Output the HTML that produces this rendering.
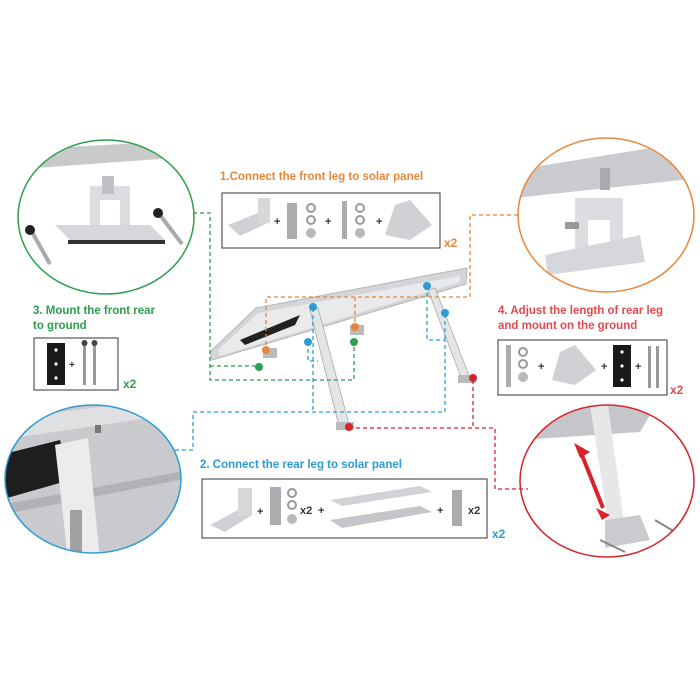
<!DOCTYPE html>
<html><head><meta charset="utf-8"><style>
html,body{margin:0;padding:0;background:#fff}
svg{display:block}
text{font-family:"Liberation Sans",sans-serif;font-weight:bold}
</style></head><body>
<svg width="700" height="700" viewBox="0 0 700 700" xmlns="http://www.w3.org/2000/svg">
<defs>
<clipPath id="cg"><ellipse cx="106" cy="217" rx="88" ry="77"/></clipPath>
<clipPath id="co"><ellipse cx="606" cy="215" rx="88" ry="77"/></clipPath>
<clipPath id="cb"><ellipse cx="93" cy="479" rx="88" ry="74"/></clipPath>
<clipPath id="cr"><ellipse cx="607" cy="481" rx="87" ry="76"/></clipPath>
</defs>

<!-- green circle -->
<g clip-path="url(#cg)">
<polygon points="10,150 200,140 200,156 10,170" fill="#c8cacc"/>
<rect x="90" y="186" width="40" height="40" fill="#dcdde0"/>
<rect x="100" y="200" width="20" height="26" fill="#fff"/>
<polygon points="55,225 150,225 165,240 70,240" fill="#d6d7da"/>
<rect x="68" y="240" width="97" height="4" fill="#333"/>
<rect x="102" y="176" width="12" height="18" fill="#bfc1c4"/>
<line x1="32" y1="232" x2="50" y2="264" stroke="#aaa" stroke-width="4"/>
<circle cx="30" cy="230" r="5" fill="#222"/>
<line x1="160" y1="215" x2="182" y2="244" stroke="#aaa" stroke-width="4"/>
<circle cx="158" cy="213" r="5" fill="#222"/>
</g>
<ellipse cx="106" cy="217" rx="88" ry="77" fill="none" stroke="#2e9e4f" stroke-width="1.5"/>

<!-- orange circle -->
<g clip-path="url(#co)">
<polygon points="515,170 700,140 700,178 515,198" fill="#c9cbce"/>
<rect x="575" y="198" width="48" height="55" fill="#dcdde0"/>
<rect x="588" y="220" width="22" height="35" fill="#fff"/>
<polygon points="545,255 640,235 645,262 548,275" fill="#d6d7da"/>
<rect x="600" y="168" width="10" height="22" fill="#a8aaae"/>
<rect x="565" y="222" width="14" height="7" fill="#999"/>
</g>
<ellipse cx="606" cy="215" rx="88" ry="77" fill="none" stroke="#e8873a" stroke-width="1.5"/>

<!-- blue circle -->
<g clip-path="url(#cb)">
<rect x="0" y="400" width="190" height="160" fill="#c8cacd"/>
<polygon points="0,420 190,395 190,412 0,440" fill="#dfe0e2"/>
<polygon points="0,455 60,440 70,480 0,500" fill="#1e1e1e"/>
<polygon points="0,505 190,470 190,478 0,515" fill="#b0b2b5"/>
<polygon points="55,445 88,438 100,560 68,560" fill="#ececec"/>
<rect x="70" y="510" width="12" height="50" fill="#9fa1a4"/>
<rect x="95" y="425" width="6" height="8" fill="#777"/>
</g>
<ellipse cx="93" cy="479" rx="88" ry="74" fill="none" stroke="#2d9bd4" stroke-width="1.5"/>

<!-- red circle -->
<g clip-path="url(#cr)">
<polygon points="520,405 700,405 700,420 650,415 640,432 520,440" fill="#c4c6c9"/>
<polygon points="590,405 608,405 625,530 610,535" fill="#e6e7e9"/>
<polygon points="605,520 640,515 650,540 605,548" fill="#c9cbce"/>
<line x1="580" y1="450" x2="603" y2="508" stroke="#d8232a" stroke-width="4"/>
<polygon points="574,443 590,452 580,458" fill="#d8232a"/>
<polygon points="610,515 596,508 602,520" fill="#d8232a"/>
<line x1="600" y1="540" x2="625" y2="552" stroke="#888" stroke-width="2"/>
<line x1="655" y1="520" x2="680" y2="535" stroke="#888" stroke-width="2"/>
</g>
<ellipse cx="607" cy="481" rx="87" ry="76" fill="none" stroke="#d8232a" stroke-width="1.5"/>

<!-- panel -->
<polygon points="210,352 256,308 467,268 466,284 212,360" fill="#d3d5d8" stroke="#b4b6b9"/>
<polygon points="218,350 258,313 460,276 460,282 220,356" fill="#e9eaec"/>
<polygon points="240,340 300,315 295,325 245,345" fill="#222"/>
<!-- legs -->
<polygon points="310,310 318,308 350,428 340,430" fill="#e4e5e7" stroke="#aaa" stroke-width="0.8"/>
<polygon points="428,290 435,288 470,378 462,380" fill="#e4e5e7" stroke="#aaa" stroke-width="0.8"/>
<rect x="263" y="348" width="14" height="10" fill="#bbb"/>
<rect x="350" y="325" width="14" height="10" fill="#bbb"/>
<rect x="336" y="422" width="18" height="8" fill="#bbb"/>
<rect x="458" y="375" width="18" height="8" fill="#bbb"/>

<!-- connectors -->
<g fill="none" stroke-width="1.3" stroke-dasharray="4,3">
<polyline stroke="#2e9e4f" points="193,213 210,213 210,380 354,380 354,344"/>
<polyline stroke="#2e9e4f" points="210,366 258,366"/>
<polyline stroke="#e8873a" points="518,215 470,215 470,297 266,297 266,350"/>
<polyline stroke="#e8873a" points="355,297 355,328"/>
<polyline stroke="#2d9bd4" points="175,450 193,450 193,412 445,412 445,340 427,340 427,288"/>
<polyline stroke="#2d9bd4" points="313,308 313,412"/>
<polyline stroke="#2d9bd4" points="308,342 308,361 318,361"/>
<polyline stroke="#2d9bd4" points="445,314 445,340"/>
<polyline stroke="#d8232a" points="349,428 495,428 495,489 528,489"/>
<polyline stroke="#d8232a" points="473,380 473,428"/>
</g>
<g>
<circle cx="259" cy="367" r="4" fill="#2e9e4f"/><circle cx="354" cy="342" r="4" fill="#2e9e4f"/>
<circle cx="266" cy="350" r="4" fill="#e8873a"/><circle cx="355" cy="327" r="4" fill="#e8873a"/>
<circle cx="313" cy="307" r="4" fill="#2d9bd4"/><circle cx="308" cy="342" r="4" fill="#2d9bd4"/>
<circle cx="427" cy="286" r="4" fill="#2d9bd4"/><circle cx="445" cy="313" r="4" fill="#2d9bd4"/>
<circle cx="349" cy="427" r="4" fill="#d8232a"/><circle cx="473" cy="378" r="4" fill="#d8232a"/>
</g>

<!-- labels -->
<text x="220" y="180" font-size="11.5" fill="#e8873a">1.Connect the front leg to solar panel</text>
<text x="33" y="314" font-size="11.5" fill="#2e9e4f">3. Mount the front rear</text>
<text x="33" y="329" font-size="11.5" fill="#2e9e4f">to ground</text>
<text x="498" y="314" font-size="11.5" fill="#e04a50">4. Adjust the length of rear leg</text>
<text x="498" y="329" font-size="11.5" fill="#e04a50">and mount on the ground</text>
<text x="200" y="468" font-size="11.5" fill="#2d9bd4">2. Connect the rear leg to solar panel</text>

<!-- box 1 -->
<rect x="222" y="193" width="218" height="55" fill="#fff" stroke="#333" stroke-width="1"/>
<polygon points="228,225 258,213 270,222 240,236" fill="#cfd1d4"/><rect x="258" y="198" width="12" height="25" fill="#d6d8da"/>
<text x="274" y="225" font-size="11" fill="#333" font-weight="normal">+</text>
<rect x="287" y="203" width="10" height="36" fill="#aaacaf"/>
<circle cx="311" cy="208" r="4" fill="none" stroke="#999" stroke-width="2"/><circle cx="311" cy="220" r="4" fill="none" stroke="#999" stroke-width="2"/><circle cx="311" cy="233" r="5" fill="#b7b9bc"/>
<text x="325" y="225" font-size="11" fill="#333" font-weight="normal">+</text>
<rect x="342" y="201" width="5" height="38" fill="#aaacaf"/>
<circle cx="360" cy="208" r="4" fill="none" stroke="#999" stroke-width="2"/><circle cx="360" cy="220" r="4" fill="none" stroke="#999" stroke-width="2"/><circle cx="360" cy="233" r="5" fill="#b7b9bc"/>
<text x="376" y="225" font-size="11" fill="#333" font-weight="normal">+</text>
<polygon points="385,235 395,205 410,200 432,225 410,240" fill="#cfd1d4"/>
<text x="444" y="247" font-size="12" fill="#e8873a">x2</text>

<!-- box 3 -->
<rect x="34" y="338" width="84" height="52" fill="#fff" stroke="#333"/>
<rect x="47" y="343" width="18" height="42" fill="#1a1a1a"/>
<circle cx="56" cy="350" r="1.6" fill="#fff"/><circle cx="56" cy="364" r="1.6" fill="#fff"/><circle cx="56" cy="378" r="1.6" fill="#fff"/>
<text x="69" y="368" font-size="10" fill="#333" font-weight="normal">+</text>
<rect x="83" y="343" width="3" height="42" fill="#999"/><rect x="93" y="343" width="3" height="42" fill="#999"/>
<circle cx="84.5" cy="343" r="3" fill="#444"/><circle cx="94.5" cy="343" r="3" fill="#444"/>
<text x="123" y="388" font-size="12" fill="#2e9e4f">x2</text>

<!-- box 4 -->
<rect x="498" y="340" width="169" height="55" fill="#fff" stroke="#333"/>
<rect x="506" y="345" width="5" height="42" fill="#aaacaf"/>
<circle cx="523" cy="352" r="4" fill="none" stroke="#999" stroke-width="2"/><circle cx="523" cy="364" r="4" fill="none" stroke="#999" stroke-width="2"/><circle cx="523" cy="377" r="5" fill="#b7b9bc"/>
<text x="538" y="370" font-size="11" fill="#333" font-weight="normal">+</text>
<polygon points="552,380 560,352 575,345 596,370 575,385" fill="#cfd1d4"/>
<text x="601" y="370" font-size="11" fill="#333" font-weight="normal">+</text>
<rect x="613" y="345" width="18" height="42" fill="#1a1a1a"/>
<circle cx="622" cy="352" r="1.6" fill="#fff"/><circle cx="622" cy="366" r="1.6" fill="#fff"/><circle cx="622" cy="380" r="1.6" fill="#fff"/>
<text x="635" y="370" font-size="11" fill="#333" font-weight="normal">+</text>
<rect x="648" y="346" width="3" height="42" fill="#999"/><rect x="656" y="346" width="3" height="42" fill="#999"/>
<text x="670" y="394" font-size="12" fill="#e04a50">x2</text>

<!-- box 2 -->
<rect x="202" y="479" width="285" height="59" fill="#fff" stroke="#333"/>
<polygon points="210,525 238,510 252,515 225,532" fill="#cfd1d4"/><rect x="238" y="488" width="14" height="28" fill="#d6d8da"/>
<text x="257" y="515" font-size="11" fill="#333" font-weight="normal">+</text>
<rect x="270" y="487" width="11" height="38" fill="#aaacaf"/>
<circle cx="292" cy="493" r="4" fill="none" stroke="#999" stroke-width="2"/><circle cx="292" cy="505" r="4" fill="none" stroke="#999" stroke-width="2"/><circle cx="292" cy="519" r="5" fill="#b7b9bc"/>
<text x="300" y="514" font-size="11" fill="#333" font-weight="normal">x2</text>
<text x="318" y="514" font-size="11" fill="#333" font-weight="normal">+</text>
<polygon points="330,500 420,486 432,492 342,506" fill="#d0d2d5"/>
<polygon points="330,520 420,506 432,512 342,528" fill="#c4c6c9"/>
<text x="437" y="514" font-size="11" fill="#333" font-weight="normal">+</text>
<rect x="452" y="490" width="10" height="36" fill="#aaacaf"/>
<text x="468" y="514" font-size="11" fill="#333" font-weight="normal">x2</text>
<text x="492" y="538" font-size="12" fill="#2d9bd4">x2</text>
</svg>
</body></html>
